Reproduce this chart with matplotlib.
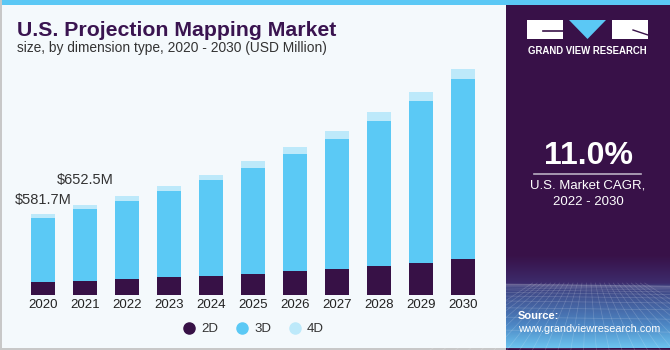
import numpy as np
import matplotlib.pyplot as plt
from matplotlib.patches import Rectangle, Polygon
from matplotlib.lines import Line2D
from matplotlib.colors import LinearSegmentedColormap

plt.rcParams['font.family'] = ['Liberation Sans', 'DejaVu Sans']

years = ['2020', '2021', '2022', '2023', '2024', '2025', '2026', '2027', '2028', '2029', '2030']
d2 = [93, 104, 115, 128, 139, 154, 171, 188, 209, 233, 260]
d3 = [462, 514, 565, 625, 691, 765, 847, 941, 1049, 1170, 1297]
d4 = [26.7, 34.5, 34, 34, 36, 48, 48, 55, 61, 63, 72]
labels = {0: '$581.7M', 1: '$652.5M'}
label_offsets = {0: 5, 1: 13}

c2, c3, c4 = '#371146', '#5BC9F5', '#BDE9FA'
bg = '#F4F9FC'
panel = '#381148'

W, H = 670, 350
fig = plt.figure(figsize=(6.7, 3.5), dpi=100, facecolor=bg)

# bar chart area in pixel terms
left_px, right_px = 0, 505
base_px, top_px = 295, 60
step = 42.0
xmin = -(43 - left_px) / step
xmax = xmin + (right_px - left_px) / step
ymax = (base_px - top_px) * 7.22

ax = fig.add_axes([left_px / W, 1 - base_px / H, (right_px - left_px) / W, (base_px - top_px) / H])
ax.set_facecolor('none')
x = np.arange(len(years))
bw = 24 / step
ax.bar(x, d2, bw, color=c2)
ax.bar(x, d3, bw, bottom=d2, color=c3)
ax.bar(x, d4, bw, bottom=np.array(d2) + np.array(d3), color=c4)
ax.set_xlim(xmin, xmax)
ax.set_ylim(0, ymax)
for s in ax.spines.values():
    s.set_visible(False)
ax.set_yticks([])
ax.set_xticks(x)
ax.set_xticklabels(years, fontsize=9.5, color='#222222')
ax.tick_params(axis='x', length=0, pad=3)

totals = np.array(d2) + np.array(d3) + np.array(d4)
for i, t in labels.items():
    ax.annotate(t, (x[i], totals[i]), xytext=(0, label_offsets[i]), textcoords='offset points',
                ha='center', va='bottom', fontsize=10.5, color='#333333')

# legend
handles = [Line2D([], [], marker='o', ls='none', color=c, markersize=8) for c in (c2, c3, c4)]
fig.legend(handles, ['2D', '3D', '4D'], loc='center', bbox_to_anchor=(0.378, 0.06), ncol=3,
           frameon=False, fontsize=9.5, handlelength=1.0, handletextpad=0.4, columnspacing=1.3,
           labelcolor='#333333')

# titles
fig.text(17 / W, 1 - 30 / H, 'U.S. Projection Mapping Market', fontsize=15.3, fontweight='bold',
         color='#3A1450', va='center', ha='left')
fig.text(17 / W, 1 - 48 / H, 'size, by dimension type, 2020 - 2030 (USD Million)', fontsize=9.9,
         color='#333333', va='center', ha='left')

# overlay for frame and right panel
ov = fig.add_axes([0, 0, 1, 1])
ov.set_zorder(-1)
ov.add_patch(Rectangle((0, 0), W, 5, color='#5BC8F5', lw=0))
ov.add_patch(Rectangle((0, 0), 1.5, H, color='#C8C8C8', lw=0))
ov.add_patch(Rectangle((0, H - 2), W, 2, color='#C8C8C8', lw=0))
ov.add_patch(Rectangle((506, 5), W - 506, H - 5, color=panel, lw=0))
cmap = LinearSegmentedColormap.from_list('g', [(0, panel), (0.3, '#3D2C6C'), (0.33, '#3E3F7E'),
                                              (0.75, '#4C86C4'), (1, '#6CC3EE')])
grad = np.linspace(0, 1, 200)[:, None]
ov.imshow(grad, extent=(506, W, H - 2, 255), cmap=cmap, aspect='auto', zorder=1)

# faint mesh below the horizon
for yy in np.geomspace(1, 65, 14):
    ov.plot([506, W], [283 + yy, 283 + yy + 2], color='white', lw=0.5, alpha=0.18, zorder=1.5)
for xx in np.linspace(430, 750, 26):
    ov.plot([588 + (xx - 588) * 0.35, xx], [283, H], color='white', lw=0.5, alpha=0.18, zorder=1.5)

ov.set_xlim(0, W)
ov.set_ylim(H, 0)
ov.axis('off')

# logo
ov.add_patch(Rectangle((527, 20), 36, 19, color='white', lw=0, zorder=2))
ov.add_patch(Polygon([(569, 20), (606, 20), (587.5, 39)], color='#5BC8F5', lw=0, zorder=2))
ov.add_patch(Rectangle((612, 20), 36, 19, color='white', lw=0, zorder=2))
ov.plot([543, 563], [31, 31], color=panel, lw=1.2, zorder=3)
ov.plot([633, 648], [30, 35], color=panel, lw=1.0, zorder=3)
ov.text(587.5, 51, 'GRAND VIEW RESEARCH', color='white', fontsize=6.9, fontweight='bold',
        ha='center', va='center', zorder=3)

ov.text(588, 156, '11.0%', color='white', fontsize=23, fontweight='bold', ha='center', va='center', zorder=3)
ov.plot([534, 641], [173.5, 173.5], color='#B9AFC2', lw=1.2, zorder=3)
ov.text(588, 186, 'U.S. Market CAGR,', color='white', fontsize=9.5, ha='center', va='center', zorder=3)
ov.text(588, 202, '2022 - 2030', color='white', fontsize=9.5, ha='center', va='center', zorder=3)
ov.text(518, 316, 'Source:', color='white', fontsize=8, fontweight='bold', ha='left', va='center', zorder=3)
ov.text(518, 329, 'www.grandviewresearch.com', color='white', fontsize=7.8, ha='left', va='center', zorder=3)

fig.savefig('out.png', dpi=100, facecolor=bg)
